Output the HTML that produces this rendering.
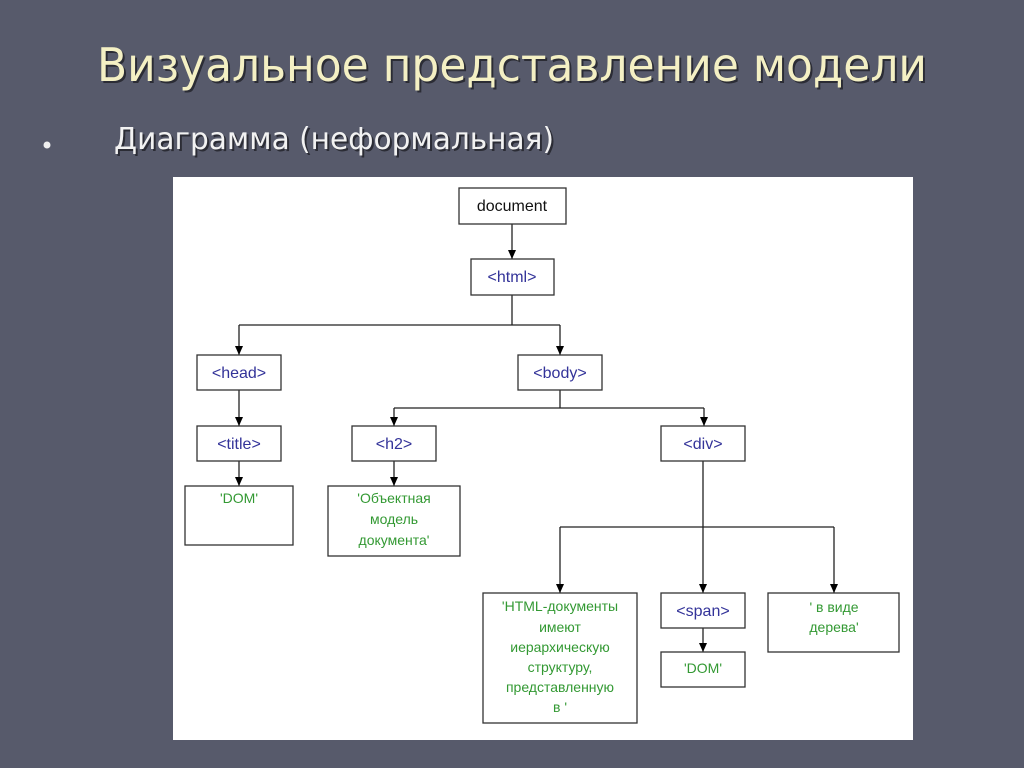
<!DOCTYPE html>
<html><head><meta charset="utf-8"><style>
html,body{margin:0;padding:0;background:#575a6b;}
svg{display:block}
</style></head><body>
<svg width="1024" height="768" xmlns="http://www.w3.org/2000/svg" font-family="'Liberation Sans', sans-serif">
<rect width="1024" height="768" fill="#575a6b"/>
<text x="97" y="81" font-family="'DejaVu Sans', sans-serif" font-size="46" fill="#000" opacity="0.5" textLength="830" lengthAdjust="spacingAndGlyphs" transform="translate(2,2)">Визуальное представление модели</text>
<text x="97" y="81" font-family="'DejaVu Sans', sans-serif" font-size="46" fill="#f4f0c4" textLength="830" lengthAdjust="spacingAndGlyphs">Визуальное представление модели</text>
<circle cx="47" cy="145" r="3.5" fill="#f0f0f0"/>
<text x="114" y="149" font-family="'DejaVu Sans', sans-serif" font-size="30" fill="#000" opacity="0.5" textLength="440" lengthAdjust="spacingAndGlyphs" transform="translate(2,2)">Диаграмма (неформальная)</text>
<text x="114" y="149" font-family="'DejaVu Sans', sans-serif" font-size="30" fill="#f2f2f2" textLength="440" lengthAdjust="spacingAndGlyphs">Диаграмма (неформальная)</text>
<rect x="173" y="177" width="740" height="563" fill="#fff"/>
<defs><marker id="a" markerWidth="9" markerHeight="8" refX="9" refY="4" orient="auto" markerUnits="userSpaceOnUse"><path d="M0,0 L9,4 L0,8 z" fill="#000"/></marker></defs>
<g stroke="#222" stroke-width="1.3" fill="none">
<path d="M512,224 V259" marker-end="url(#a)"/>
<path d="M512,295 V325"/><path d="M239,325 H560"/>
<path d="M239,325 V355" marker-end="url(#a)"/><path d="M560,325 V355" marker-end="url(#a)"/>
<path d="M560,390 V408 M394,408 H704"/>
<path d="M394,408 V426" marker-end="url(#a)"/><path d="M704,408 V426" marker-end="url(#a)"/>
<path d="M239,390 V426" marker-end="url(#a)"/>
<path d="M239,461 V486" marker-end="url(#a)"/>
<path d="M394,461 V486" marker-end="url(#a)"/>
<path d="M703,461 V593" marker-end="url(#a)"/>
<path d="M560,527 H834"/>
<path d="M560,527 V593" marker-end="url(#a)"/><path d="M834,527 V593" marker-end="url(#a)"/>
<path d="M703,628 V652" marker-end="url(#a)"/>
</g>
<g stroke="#333" stroke-width="1.3" fill="#fff">
<rect x="459" y="188" width="107" height="36"/>
<rect x="471" y="259" width="83" height="36"/>
<rect x="197" y="355" width="84" height="35"/>
<rect x="518" y="355" width="84" height="35"/>
<rect x="197" y="426" width="84" height="35"/>
<rect x="352" y="426" width="84" height="35"/>
<rect x="661" y="426" width="84" height="35"/>
<rect x="185" y="486" width="108" height="59"/>
<rect x="328" y="486" width="132" height="70"/>
<rect x="483" y="593" width="154" height="130"/>
<rect x="661" y="593" width="84" height="35"/>
<rect x="661" y="652" width="84" height="35"/>
<rect x="768" y="593" width="131" height="59"/>
</g>
<g font-size="16" text-anchor="middle">
<text x="512" y="211" fill="#111">document</text>
<g fill="#333399">
<text x="512" y="282">&lt;html&gt;</text>
<text x="239" y="378">&lt;head&gt;</text>
<text x="560" y="378">&lt;body&gt;</text>
<text x="239" y="449">&lt;title&gt;</text>
<text x="394" y="449">&lt;h2&gt;</text>
<text x="703" y="449">&lt;div&gt;</text>
<text x="703" y="616">&lt;span&gt;</text>
</g>
</g>
<g font-size="14" text-anchor="middle" fill="#339933">
<text x="239" y="503">'DOM'</text>
<text x="394" y="503">'Объектная</text>
<text x="394" y="524">модель</text>
<text x="394" y="545">документа'</text>
<text x="560" y="611">'HTML-документы</text>
<text x="560" y="632">имеют</text>
<text x="560" y="652">иерархическую</text>
<text x="560" y="672">структуру,</text>
<text x="560" y="692">представленную</text>
<text x="560" y="712">в  '</text>
<text x="703" y="673">'DOM'</text>
<text x="834" y="612">' в виде</text>
<text x="834" y="632">дерева'</text>
</g>
</svg>
</body></html>
